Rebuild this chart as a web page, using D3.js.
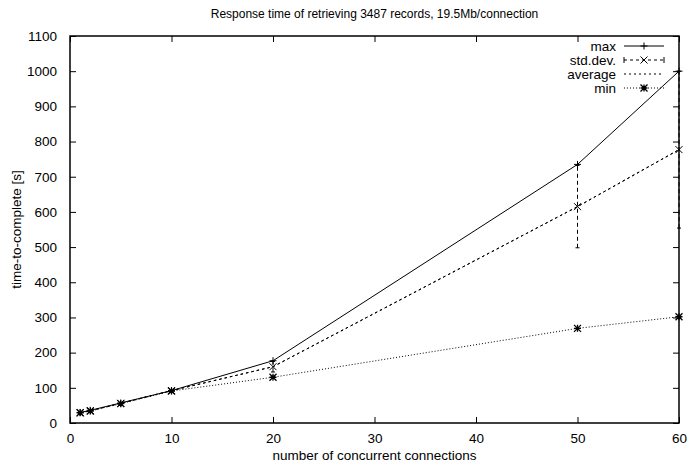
<!DOCTYPE html>
<html><head><meta charset="utf-8">
<script src="https://cdn.jsdelivr.net/npm/d3@7"></script>
<style>
body{margin:0;background:#fff;}
text{font-family:"Liberation Sans",Arial,Helvetica,sans-serif;fill:#000;}
</style></head>
<body><svg id="c" width="691" height="466"></svg>
<script>
const xs = [1, 2, 5, 10, 20, 50, 60];
const maxVals = [30, 36, 57, 92, 177, 735, 1000];
const avgVals = [29, 35, 56, 92, 160, 615, 777];
const stdVals = [1, 1, 2, 2, 15, 117, 223];
const minVals = [29, 34, 55, 91, 130, 269, 302];
const xTicks = [0, 10, 20, 30, 40, 50, 60];
const yTicks = [0,100,200,300,400,500,600,700,800,900,1000,1100];
const seriesNames = ["max", "std.dev.", "average", "min"];

const svg = d3.select("#c");
const L = 70, R = 679, T = 36, B = 423;
const x = d3.scaleLinear().domain([0, 60]).range([L, R]);
const y = d3.scaleLinear().domain([0, 1100]).range([B, T]);
const FS = 13.5;

const fmt = d3.format("d");
svg.append("g").attr("transform", `translate(0,${B})`)
  .call(d3.axisBottom(x).tickValues(xTicks).tickFormat(fmt).tickSize(-6).tickPadding(10).tickSizeOuter(0))
  .call(g => { g.select(".domain").remove(); g.selectAll("text").attr("font-size", FS); });
svg.append("g").attr("transform", `translate(0,${T})`)
  .call(d3.axisTop(x).tickValues(xTicks).tickFormat("").tickSize(-6).tickSizeOuter(0))
  .call(g => g.select(".domain").remove());
svg.append("g").attr("transform", `translate(${L},0)`)
  .call(d3.axisLeft(y).tickValues(yTicks).tickFormat(fmt).tickSize(-6).tickPadding(13).tickSizeOuter(0))
  .call(g => { g.select(".domain").remove(); g.selectAll("text").attr("font-size", FS); });
svg.append("g").attr("transform", `translate(${R},0)`)
  .call(d3.axisRight(y).tickValues(yTicks).tickFormat("").tickSize(-6).tickSizeOuter(0))
  .call(g => g.select(".domain").remove());
svg.append("rect").attr("x", L).attr("y", T).attr("width", R - L).attr("height", B - T)
  .attr("fill", "none").attr("stroke", "#000").attr("stroke-width", 1.5);

svg.append("text").attr("x", (L + R) / 2).attr("y", 18).attr("text-anchor", "middle")
  .attr("font-size", 12).text("Response time of retrieving 3487 records, 19.5Mb/connection");
svg.append("text").attr("x", (L + R) / 2).attr("y", 460).attr("text-anchor", "middle")
  .attr("font-size", FS).text("number of concurrent connections");
svg.append("text").attr("transform", `translate(21,${(T + B) / 2}) rotate(-90)`).attr("text-anchor", "middle")
  .attr("font-size", FS).text("time-to-complete [s]");

const line = d3.line().x(d => x(d[0])).y(d => y(d[1]));
const plot = svg.append("g");
function marker(g, cx, cy, type) {
  const s = 3.5;
  const p = d3.path();
  if (type === "+" || type === "*") { p.moveTo(cx - s, cy); p.lineTo(cx + s, cy); p.moveTo(cx, cy - s); p.lineTo(cx, cy + s); }
  if (type === "x" || type === "*") { p.moveTo(cx - s, cy - s); p.lineTo(cx + s, cy + s); p.moveTo(cx - s, cy + s); p.lineTo(cx + s, cy - s); }
  g.append("path").attr("d", p.toString()).attr("stroke", "#000").attr("stroke-width", type === "*" ? 1.3 : 1).attr("fill", "none");
}

const maxData = xs.map((v, i) => [v, maxVals[i]]);
const avgData = xs.map((v, i) => [v, avgVals[i]]);
const minData = xs.map((v, i) => [v, minVals[i]]);

plot.append("path").attr("d", line(minData)).attr("fill", "none").attr("stroke", "#000")
  .attr("stroke-width", 1).attr("stroke-dasharray", "1,2");
minData.forEach(d => marker(plot, x(d[0]), y(d[1]), "*"));
// average and std.dev lines coincide
plot.append("path").attr("d", line(avgData)).attr("fill", "none").attr("stroke", "#000")
  .attr("stroke-width", 1).attr("stroke-dasharray", "2.5,3");
plot.append("path").attr("d", line(avgData)).attr("fill", "none").attr("stroke", "#000")
  .attr("stroke-width", 1).attr("stroke-dasharray", "2.5,3");
xs.forEach((v, i) => {
  const cx = x(v), lo = y(avgVals[i] - stdVals[i]), hi = y(avgVals[i] + stdVals[i]);
  plot.append("line").attr("x1", cx).attr("x2", cx).attr("y1", lo).attr("y2", hi)
    .attr("stroke", "#000").attr("stroke-width", 1).attr("stroke-dasharray", "4,3");
  [lo, hi].forEach(yy => plot.append("line").attr("x1", cx - 2).attr("x2", cx + 2).attr("y1", yy).attr("y2", yy)
    .attr("stroke", "#000").attr("stroke-width", 1));
  marker(plot, cx, y(avgVals[i]), "x");
});
plot.append("path").attr("d", line(maxData)).attr("fill", "none").attr("stroke", "#000").attr("stroke-width", 1);
maxData.forEach(d => marker(plot, x(d[0]), y(d[1]), "+"));

const lg = svg.append("g");
const rowsY = [46, 60, 74, 88];
const styles = [
  { dash: null, mk: "+" },
  { dash: "3,3", mk: "x", caps: true },
  { dash: "2,3", mk: null },
  { dash: "1,2", mk: "*" }
];
seriesNames.forEach((n, i) => {
  const yy = rowsY[i];
  lg.append("text").attr("x", 616).attr("y", yy + 4.5).attr("text-anchor", "end").attr("font-size", FS).text(n);
  lg.append("line").attr("x1", 624).attr("x2", 664).attr("y1", yy).attr("y2", yy)
    .attr("stroke", "#000").attr("stroke-width", 1).attr("stroke-dasharray", styles[i].dash);
  if (styles[i].caps) {
    [624, 664].forEach(xx => lg.append("line").attr("x1", xx).attr("x2", xx).attr("y1", yy - 3).attr("y2", yy + 3)
      .attr("stroke", "#000").attr("stroke-width", 1));
  }
  if (styles[i].mk) marker(lg, 644, yy, styles[i].mk);
});
</script></body></html>
